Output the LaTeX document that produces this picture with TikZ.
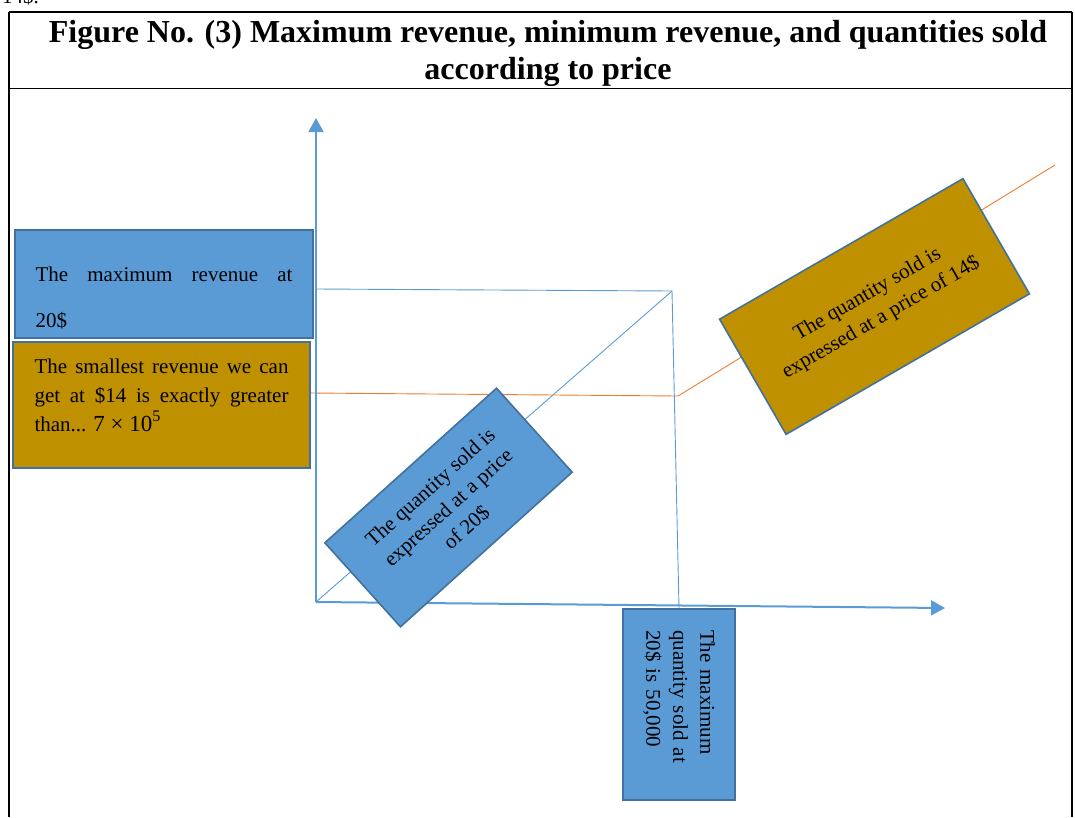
\documentclass[tikz,border=0pt]{standalone}
\usepackage{fontspec}
\setmainfont{Liberation Serif}
\usetikzlibrary{arrows.meta}
\definecolor{boxblue}{HTML}{5B9BD5}
\definecolor{boxedge}{HTML}{41719C}
\definecolor{boxgold}{HTML}{BF9000}
\definecolor{lineorange}{HTML}{ED7D31}
\begin{document}
\begin{tikzpicture}[x=1pt, y=-1pt,
frame/.style={draw=black, line width=1.6pt},
axis/.style={draw=boxblue, line width=2pt, -{Triangle[width=15pt,length=14pt]}},
guide/.style={draw=boxblue, line width=0.9pt},
priceline/.style={draw=lineorange, line width=0.9pt},
bluebox/.style={rectangle, draw=boxedge, fill=boxblue, line width=1.6pt, font=\fontsize{21}{27}\selectfont},
goldbox/.style={rectangle, draw=boxedge, fill=boxgold, line width=1.6pt, font=\fontsize{21}{27}\selectfont},
]
\useasboundingbox (0,0) rectangle (1075,817);
\node[anchor=base west, inner sep=0pt, font=\fontsize{21}{25}\selectfont] (prev) at (2,3) {14\$.};
\draw[frame] (9,12) -- (1072,12);
\draw[frame] (9,12) -- (9,817);
\draw[frame] (1072,12) -- (1072,817);
\draw[frame] (9,88.5) -- (1072,88.5);
\node[font=\bfseries\fontsize{32}{37}\selectfont, align=center, inner sep=0pt] (title) at (548,53)
  {Figure No. (3) Maximum revenue, minimum revenue, and quantities sold\\according to price};
\coordinate (O) at (316,602);
\coordinate (ytip) at (316,118);
\coordinate (xtip) at (945,608);
\coordinate (ymax) at (316,289);
\coordinate (P) at (672,291);
\coordinate (lowrev) at (310,393);
\coordinate (Q) at (678,396);
\coordinate (R) at (1055,165);
\draw[guide] (ymax) -- (P);
\draw[guide] (O) -- (P);
\draw[priceline] (lowrev) -- (Q) -- (R);
\draw[axis] (O) -- (ytip);
\draw[axis] (O) -- (xtip);
\node[bluebox, rotate=-90, minimum width=191pt, minimum height=112pt, inner xsep=0pt, text width=149pt, align=left] (maxqty) at (679,704.5)
  {The maximum\\quantity sold at\\20\$ is 50,000};
\draw[guide] (P) -- (maxqty.west);
\node[bluebox, minimum width=298pt, minimum height=108pt, inner xsep=20.5pt, inner ysep=0pt, text width=257pt, align=justify, font=\fontsize{21}{46}\selectfont] (maxrev) at (164,284)
  {\rule{0pt}{51pt}The maximum revenue at\linebreak 20\$\rule[-11pt]{0pt}{11pt}};
\node[goldbox, minimum width=297pt, minimum height=126pt, inner xsep=21.5pt, inner ysep=0pt, text width=254pt, align=justify, font=\fontsize{21}{29}\selectfont] (minrev) at (161.5,405)
  {\rule{0pt}{31pt}The smallest revenue we can\linebreak get at \$14 is exactly greater\linebreak than... {\fontsize{23}{29}\selectfont 7 × 10\textsuperscript{5}}\rule[-37pt]{0pt}{37pt}};
\node[bluebox, rotate=42, minimum width=231pt, minimum height=113pt, align=center] (qty20) at (448.5,507.5)
  {The quantity sold is\\expressed at a price\\of 20\$};
\node[goldbox, rotate=30, minimum width=281pt, minimum height=133pt, align=center] (qty14) at (874.5,306.5)
  {The quantity sold is\\expressed at a price of 14\$};
\end{tikzpicture}
\end{document}
